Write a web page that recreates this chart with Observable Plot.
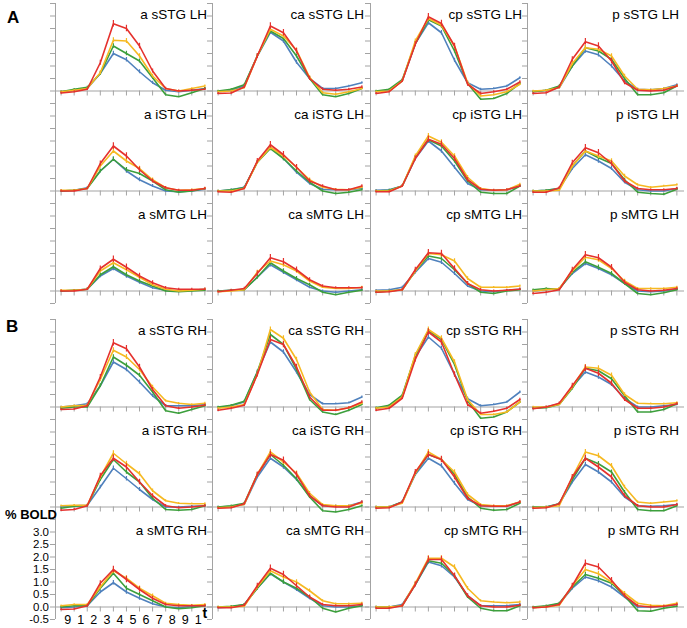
<!DOCTYPE html>
<html><head><meta charset="utf-8">
<script src="https://cdn.jsdelivr.net/npm/d3@7"></script>
<script src="https://cdn.jsdelivr.net/npm/@observablehq/plot@0.6"></script>
<style>
html,body{margin:0;padding:0;background:#fff;}
#chart{position:relative;width:687px;height:628px;font-family:"Liberation Sans",Arial,sans-serif;overflow:hidden;background:#fff;}
#chart svg{position:absolute;overflow:visible;}
.lab{position:absolute;font-weight:bold;color:#000;line-height:1;white-space:nowrap;}
</style></head><body><div id="chart"></div>
<script>
// ---------- data ----------
const regions = ["a", "ca", "cp", "p"];
const gyri = ["sSTG", "iSTG", "sMTG"];
const hemis = ["LH", "RH"];
const seriesColors = ["#4f81bd", "#3c9f3c", "#f6b921", "#e5312d"]; // blue, green, yellow, red
const xTickLabels = ["9", "1", "2", "3", "4", "5", "6", "7", "8", "9", "1"];
const yTickValues = [-0.5, 0, 0.5, 1, 1.5, 2, 2.5, 3, 3.5];
const yLabelValues = [-0.5, 0, 0.5, 1, 1.5, 2, 2.5, 3];

// error bar half-lengths per time point
const errBlue   = [0.03,0.03,0.04,0.07,0.09,0.09,0.08,0.06,0.04,0.03,0.03,0.04];
const errGreen  = [0.03,0.03,0.04,0.07,0.09,0.09,0.08,0.06,0.04,0.03,0.03,0.04];
const errYellow = [0.03,0.03,0.04,0.08,0.1,0.1,0.09,0.07,0.04,0.03,0.03,0.04];
const errRed    = [0.04,0.04,0.05,0.1,0.13,0.13,0.11,0.08,0.05,0.04,0.04,0.05];

// panels in order: LH sSTG (a, ca, cp, p), LH iSTG, LH sMTG, RH sSTG, RH iSTG, RH sMTG
const blue = [
  [-0.03,0.03,0.1,0.7,1.5,1.25,0.77,0.33,0.03,-0.03,0.03,0.1],
  [-0.03,0.03,0.2,1.4,2.35,2.0,1.15,0.5,0.1,0.1,0.2,0.33],
  [-0.03,0.03,0.4,1.9,2.73,2.33,1.23,0.33,0.07,0.1,0.2,0.53],
  [-0.03,0.03,0.13,1.0,1.6,1.45,1.0,0.4,0.07,0.05,0.1,0.25],
  [0.0,0.03,0.13,0.8,1.27,0.8,0.45,0.2,0.0,-0.03,0.0,0.07],
  [0.0,0.05,0.15,1.15,1.75,1.3,0.75,0.3,0.07,0.05,0.05,0.1],
  [0.03,0.05,0.2,1.3,2.0,1.6,0.95,0.3,0.05,0.03,0.05,0.2],
  [0.0,0.03,0.1,0.9,1.45,1.2,0.9,0.35,0.05,0.0,0.0,0.1],
  [0.0,0.03,0.07,0.6,0.9,0.6,0.35,0.13,0.03,0.0,0.03,0.07],
  [0.0,0.03,0.05,0.55,1.05,0.75,0.45,0.15,0.0,-0.05,0.0,0.05],
  [0.03,0.05,0.15,0.75,1.3,1.15,0.7,0.2,0.0,-0.03,0.03,0.07],
  [0.0,0.05,0.1,0.7,1.1,0.9,0.65,0.3,0.0,-0.03,0.0,0.07],
  [0.0,0.05,0.13,0.85,1.8,1.5,1.0,0.45,0.05,0.05,0.05,0.1],
  [-0.03,0.05,0.2,1.4,2.6,2.2,1.4,0.5,0.13,0.13,0.17,0.4],
  [-0.05,0.03,0.4,2.0,2.8,2.35,1.3,0.33,0.05,0.1,0.2,0.6],
  [-0.03,0.0,0.13,0.8,1.4,1.2,0.9,0.35,0.0,0.0,0.05,0.1],
  [0.0,0.05,0.07,0.8,1.55,1.13,0.7,0.3,0.0,0.0,0.03,0.05],
  [0.0,0.03,0.1,1.2,1.95,1.6,1.1,0.45,0.05,0.05,0.05,0.2],
  [0.0,0.0,0.2,1.3,1.95,1.65,0.95,0.3,0.05,0.03,0.03,0.2],
  [-0.03,0.0,0.13,1.0,1.7,1.4,1.0,0.4,0.05,0.03,0.05,0.1],
  [-0.03,0.0,0.05,0.6,0.97,0.6,0.35,0.13,0.0,-0.03,0.03,0.05],
  [-0.03,0.0,0.1,0.75,1.33,1.0,0.7,0.35,0.05,0.0,0.0,0.05],
  [0.0,0.0,0.1,0.9,1.8,1.65,1.2,0.45,0.05,0.05,0.05,0.1],
  [-0.03,0.03,0.13,0.75,1.2,1.05,0.8,0.4,0.0,0.0,0.03,0.1]
];
const green = [
  [-0.03,0.07,0.15,0.7,1.8,1.5,1.2,0.53,-0.15,-0.23,-0.07,0.1],
  [0.0,0.07,0.25,1.4,2.4,2.1,1.4,0.5,-0.15,-0.23,-0.1,0.1],
  [0.0,0.07,0.45,1.9,2.85,2.6,1.6,0.3,-0.33,-0.3,-0.1,0.3],
  [-0.03,0.03,0.2,1.0,1.73,1.6,1.27,0.5,-0.15,-0.15,-0.07,0.2],
  [0.0,0.03,0.1,0.8,1.27,0.85,0.7,0.4,0.05,-0.05,0.0,0.1],
  [0.0,0.05,0.13,1.15,1.7,1.3,0.8,0.35,0.0,-0.1,-0.05,0.05],
  [0.0,0.03,0.2,1.35,2.05,1.8,1.2,0.4,-0.05,-0.1,-0.1,0.2],
  [0.0,0.03,0.1,1.0,1.6,1.33,1.1,0.45,-0.05,-0.1,-0.13,0.07],
  [0.0,0.03,0.07,0.65,0.97,0.65,0.4,0.2,0.0,-0.03,0.0,0.03],
  [0.0,0.03,0.05,0.55,1.13,0.8,0.5,0.25,-0.05,-0.15,-0.05,0.03],
  [-0.05,0.0,0.05,0.8,1.4,1.3,0.85,0.3,-0.05,-0.1,0.0,0.05],
  [0.05,0.1,0.07,0.75,1.17,0.95,0.7,0.3,-0.1,-0.15,-0.07,0.05],
  [-0.05,0.0,0.0,0.85,2.0,1.67,1.27,0.6,-0.15,-0.25,-0.1,0.05],
  [0.0,0.07,0.23,1.4,2.9,2.5,1.5,0.3,-0.2,-0.3,-0.13,0.1],
  [-0.03,0.07,0.47,2.05,3.05,2.7,1.7,0.25,-0.45,-0.4,-0.2,0.2],
  [-0.05,-0.03,0.1,0.75,1.55,1.45,1.13,0.45,-0.2,-0.2,-0.1,0.13],
  [-0.05,0.03,0.05,1.1,1.9,1.4,1.0,0.35,-0.1,-0.13,-0.1,0.05],
  [0.0,0.05,0.15,1.3,2.1,1.67,1.13,0.4,-0.15,-0.2,-0.1,0.05],
  [0.0,0.0,0.2,1.35,2.1,1.9,1.3,0.4,-0.05,-0.13,-0.1,0.15],
  [0.0,0.0,0.13,1.1,1.95,1.73,1.4,0.6,-0.1,-0.15,-0.15,0.05],
  [0.0,0.05,0.05,0.75,1.35,0.75,0.5,0.25,0.0,-0.07,-0.03,0.05],
  [0.0,0.03,0.1,0.75,1.35,1.0,0.75,0.4,-0.05,-0.2,-0.05,0.05],
  [0.0,0.0,0.05,0.9,1.85,1.75,1.25,0.4,-0.05,-0.15,-0.15,0.05],
  [0.0,0.05,0.15,0.8,1.3,1.15,0.95,0.45,-0.15,-0.17,-0.05,0.03]
];
const yellow = [
  [-0.03,0.03,0.1,0.73,2.03,2.0,1.4,0.6,0.1,0.0,0.1,0.2],
  [-0.03,0.0,0.13,1.4,2.47,2.2,1.63,0.55,-0.07,-0.13,-0.03,0.1],
  [-0.03,0.0,0.4,2.0,2.9,2.63,1.8,0.33,-0.2,-0.15,-0.03,0.27],
  [0.0,0.03,0.13,1.1,1.73,1.67,1.4,0.6,0.07,0.05,0.1,0.2],
  [0.03,0.03,0.1,1.0,1.6,1.2,0.9,0.45,0.13,0.03,0.05,0.1],
  [0.0,0.0,0.1,1.15,1.75,1.4,0.95,0.45,0.15,0.07,0.05,0.15],
  [0.0,0.0,0.2,1.4,2.2,1.95,1.4,0.55,0.1,0.03,0.05,0.27],
  [0.0,0.0,0.03,1.0,1.6,1.4,1.2,0.6,0.25,0.15,0.2,0.25],
  [0.03,0.03,0.07,0.8,1.13,0.85,0.55,0.25,0.07,0.0,0.03,0.07],
  [-0.03,0.0,0.05,0.75,1.2,1.05,0.8,0.4,0.15,0.1,0.1,0.15],
  [0.0,0.0,0.05,0.8,1.5,1.45,1.2,0.5,0.15,0.15,0.15,0.2],
  [0.0,0.05,0.1,0.8,1.35,1.25,0.9,0.4,0.1,0.1,0.1,0.15],
  [0.0,0.05,0.07,1.1,2.27,2.0,1.5,0.8,0.25,0.15,0.1,0.15],
  [-0.05,0.0,0.1,1.3,3.1,2.75,1.9,0.6,-0.1,-0.13,-0.03,0.15],
  [-0.05,0.0,0.4,2.1,3.1,2.75,1.8,0.3,-0.3,-0.3,-0.2,0.2],
  [0.0,0.0,0.1,0.8,1.6,1.55,1.27,0.5,0.15,0.13,0.13,0.17],
  [0.05,0.07,0.07,1.2,2.15,1.73,1.33,0.65,0.25,0.15,0.13,0.13],
  [-0.03,0.0,0.1,1.3,2.2,1.8,1.35,0.55,0.1,0.05,0.05,0.15],
  [0.0,0.0,0.15,1.35,2.2,1.9,1.4,0.5,0.1,0.05,0.05,0.2],
  [-0.03,0.0,0.05,1.2,2.2,2.05,1.65,0.8,0.2,0.15,0.2,0.25],
  [0.05,0.1,0.1,0.8,1.45,1.15,0.75,0.45,0.15,0.1,0.07,0.1],
  [0.0,0.0,0.03,0.8,1.45,1.2,1.0,0.65,0.25,0.13,0.13,0.15],
  [0.0,0.0,0.05,0.95,1.95,1.95,1.6,0.75,0.25,0.2,0.17,0.2],
  [-0.03,0.0,0.07,0.85,1.5,1.33,1.0,0.55,0.15,0.07,0.05,0.15]
];
const red = [
  [-0.08,-0.03,0.07,1.13,2.69,2.5,1.8,0.8,0.1,0.0,0.03,0.07],
  [-0.1,-0.08,0.16,1.4,2.6,2.33,1.6,0.5,0.07,0.03,0.07,0.16],
  [-0.1,-0.03,0.4,1.87,2.97,2.7,1.8,0.27,-0.1,-0.03,0.07,0.36],
  [-0.1,-0.07,0.16,1.27,1.97,1.8,1.2,0.33,0.03,0.0,0.03,0.2],
  [0.0,0.0,0.1,1.1,1.8,1.4,0.85,0.4,0.13,0.03,0.03,0.1],
  [-0.03,-0.05,0.1,1.2,1.85,1.45,0.95,0.4,0.2,0.05,0.05,0.2],
  [-0.03,-0.03,0.2,1.3,2.07,1.87,1.3,0.45,0.07,0.03,0.05,0.2],
  [-0.05,-0.05,0.13,1.13,1.73,1.53,1.1,0.4,0.1,0.05,0.05,0.1],
  [0.0,0.0,0.07,0.9,1.27,0.95,0.6,0.33,0.13,0.07,0.07,0.07],
  [-0.03,0.03,0.1,0.7,1.33,1.17,0.85,0.45,0.2,0.13,0.13,0.13],
  [-0.05,-0.03,0.05,0.85,1.53,1.5,0.9,0.3,0.05,0.0,0.03,0.07],
  [-0.1,-0.05,0.05,0.85,1.45,1.33,0.95,0.35,0.05,0.0,0.03,0.1],
  [-0.1,-0.08,0.05,1.2,2.57,2.33,1.6,0.7,0.05,-0.05,0.0,0.07],
  [-0.13,-0.05,0.07,1.3,2.7,2.5,1.6,0.4,-0.13,-0.13,-0.03,0.2],
  [-0.13,-0.05,0.35,1.9,3.0,2.6,1.3,0.1,-0.25,-0.17,-0.05,0.3],
  [-0.07,0.0,0.15,0.85,1.55,1.35,0.95,0.3,-0.05,-0.05,0.0,0.13],
  [-0.13,-0.1,0.05,1.25,1.95,1.6,1.0,0.45,0.05,-0.03,0.0,0.05],
  [-0.05,-0.03,0.13,1.3,2.1,1.87,1.3,0.45,0.05,0.0,0.0,0.2],
  [-0.05,-0.03,0.2,1.4,2.1,1.9,1.2,0.35,0.05,0.03,0.03,0.2],
  [-0.05,-0.03,0.13,1.2,1.95,1.6,1.2,0.45,0.05,0.0,0.0,0.1],
  [-0.1,-0.08,0.05,0.95,1.5,1.1,0.7,0.35,0.1,0.05,0.05,0.05],
  [-0.03,-0.03,0.07,0.85,1.55,1.3,0.85,0.4,0.1,0.05,0.05,0.1],
  [-0.05,-0.05,0.05,0.9,1.9,1.9,1.25,0.45,0.05,0.0,0.0,0.07],
  [-0.03,0.0,0.1,0.85,1.75,1.6,1.07,0.45,0.05,0.0,0.03,0.1]
];

// ---------- layout ----------
const chart = document.getElementById("chart");
const colLeft = [55, 212.3, 369.6, 526.9];
const rowZero = [90, 190, 290, 406, 506, 606];
const W = 157, H = 100;
const step = 13.07, firstOff = 5.6;
const xDomain = [-firstOff / step, (W - firstOff) / step];
const axisColor = "#a3a3a3";
const allSeries = [blue, green, yellow, red];
const allErr = [errBlue, errGreen, errYellow, errRed];

function panel(r, c) {
  const idx = r * 4 + c;
  const h = Math.floor(r / 3), g = r % 3;
  const title = `${regions[c]} ${gyri[g]} ${hemis[h]}`;
  const isBL = (r === 5 && c === 0);
  const marks = [
    Plot.ruleY([0], {stroke: axisColor}),
    Plot.ruleX([xDomain[0]], {stroke: axisColor}),
    Plot.axisY({ticks: yTickValues, tickSize: 5, tickPadding: 1.5, stroke: axisColor,
      fontSize: 11.5, fill: "#000",
      tickFormat: isBL ? (d => (yLabelValues.includes(d) ? d.toFixed(1) : "")) : (() => "")}),
    Plot.ruleX(d3.range(12), {y1: 0, y2: -0.2, stroke: axisColor})
  ];
  allSeries.forEach((S, s) => {
    const vals = S[idx];
    const err = allErr[s];
    marks.push(Plot.ruleX(vals, {x: (d, i) => i, y1: (d, i) => d - err[i], y2: (d, i) => d + err[i],
      stroke: seriesColors[s], strokeWidth: 1.2}));
    marks.push(Plot.line(vals, {x: (d, i) => i, y: d => d, stroke: seriesColors[s], strokeWidth: 1.6}));
  });
  marks.push(Plot.text([title], {frameAnchor: "top-right", textAnchor: "end", lineAnchor: "top",
    dx: -5.5, dy: 6, fontSize: 13.5, fill: "#000"}));
  if (isBL) {
    marks.push(Plot.text(xTickLabels, {x: (d, i) => i + 0.5, y: 0, dy: 12.5, fontSize: 12.5, fill: "#000"}));
    marks.push(Plot.text(["t"], {x: 11, y: 0, dy: 7, fontSize: 14, fontWeight: "bold", fill: "#000"}));
  }
  const svg = Plot.plot({
    width: W, height: H,
    marginTop: 0, marginBottom: 0, marginLeft: 0, marginRight: 0,
    x: {domain: xDomain, range: [0, W], axis: null},
    y: {domain: [-0.5, 3.5], range: [H, 0], axis: null},
    style: {overflow: "visible", background: "transparent", fontFamily: "Liberation Sans, Arial, sans-serif", color: "#000"},
    marks
  });
  svg.style.left = colLeft[c] + "px";
  svg.style.top = (rowZero[r] - 87.5) + "px";
  return svg;
}

for (let r = 0; r < 6; r++) for (let c = 0; c < 4; c++) chart.appendChild(panel(r, c));

function label(text, left, top, size) {
  const d = document.createElement("div");
  d.className = "lab";
  d.textContent = text;
  d.style.left = left + "px";
  d.style.top = top + "px";
  d.style.fontSize = size + "px";
  chart.appendChild(d);
}
label("A", 7, 9, 17);
label("B", 6, 318, 17);
label("% BOLD", 5, 507.5, 13);
</script>
</body></html>
